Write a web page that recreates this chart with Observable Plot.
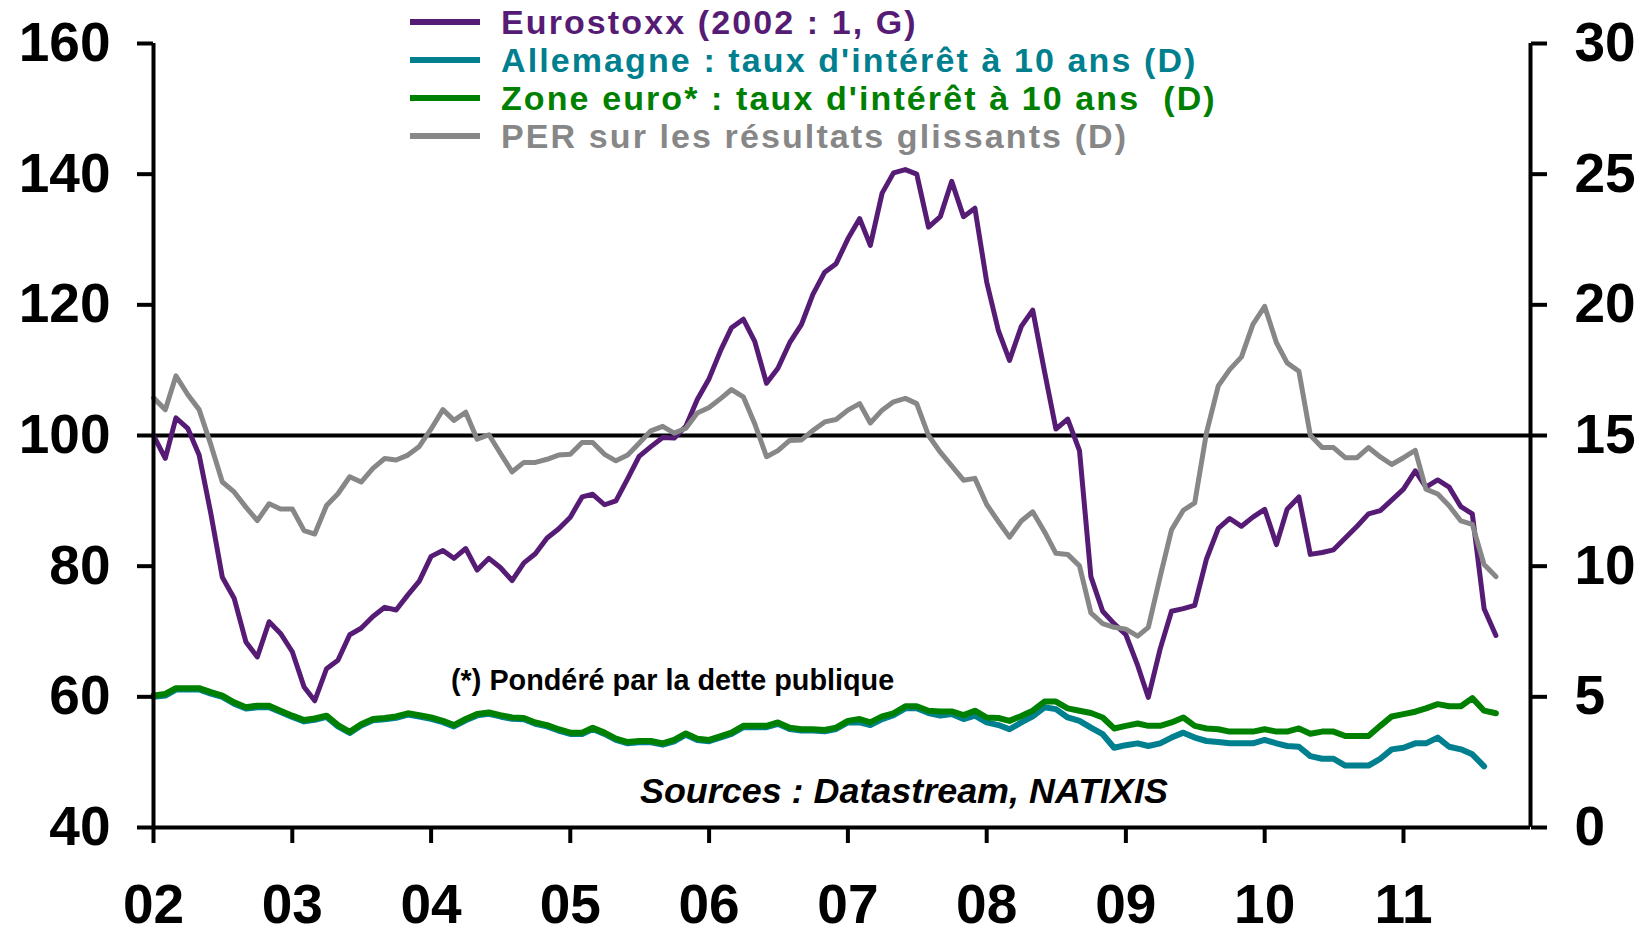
<!DOCTYPE html>
<html><head><meta charset="utf-8">
<script src="https://cdn.jsdelivr.net/npm/d3@7"></script>
<script src="https://cdn.jsdelivr.net/npm/@observablehq/plot@0.6"></script>
<style>
html,body{margin:0;padding:0;background:#fff;}
#wrap{position:relative;width:1652px;height:932px;font-family:Arial,"Liberation Sans",sans-serif;font-weight:bold;}
#legend{position:absolute;left:410px;top:3px;}
.row{display:flex;align-items:center;height:38px;white-space:pre;}
.sw{width:70px;height:6px;margin-right:21px;flex:none;}
.lab{display:block;height:38px;line-height:38px;font-size:34px;letter-spacing:2.1px;overflow:visible;}
.note{position:absolute;white-space:pre;color:#000;line-height:1;}
</style></head><body><div id="wrap"></div>
<script>
// Monthly series, Jan 2002 onward
const startYear = 2002;
const eurostoxx = [100,96.5,102.7,101.1,97.0,88,78.3,75.1,68.4,66.1,71.5,69.7,66.9,61.5,59.4,64.3,65.6,69.5,70.5,72.3,73.7,73.3,75.6,77.7,81.5,82.4,
81.2,82.7,79.4,81.2,79.8,77.8,80.5,81.9,84.3,85.7,87.5,90.6,91.0,89.4,90.0,93.4,96.8,98.3,99.7,99.6,101.4,105.5,
108.7,113.1,116.5,117.8,114.4,108.0,110.3,114.2,117.0,121.6,125.0,126.3,130.1,133.2,129.1,137.1,140.2,140.7,140.0,131.9,133.5,138.9,133.5,134.8,
123.5,116.0,111.5,116.7,119.2,109.8,101.0,102.5,97.7,78.4,73.1,71.2,69.5,64.8,59.9,67.3,73.1,73.5,74.0,81.1,85.8,87.3,86.1,87.5,88.7,
83.3,88.7,90.6,81.8,82.1,82.5,84.3,86.1,88.0,88.5,90.1,91.8,94.6,92.1,93.2,92.1,89.1,88.0,73.5,69.4];
const allemagne = [5.0,5.05,5.28,5.28,5.28,5.12,5.0,4.74,4.55,4.6,4.6,4.42,4.23,4.06,4.12,4.23,3.87,3.62,3.9,4.1,4.14,4.2,4.32,4.25,4.16,4.03,3.87,4.1,4.29,4.35,4.25,4.16,4.14,3.97,3.87,3.71,3.58,3.58,3.77,3.58,3.35,3.22,3.26,3.26,3.17,3.3,3.55,3.35,3.3,3.45,3.58,3.84,3.84,3.84,3.97,3.77,3.71,3.71,3.68,3.77,
4.02,4.02,3.92,4.15,4.30,4.56,4.56,4.38,4.28,4.34,4.15,4.28,4.02,3.92,3.76,4.02,4.25,4.60,4.53,4.21,4.08,3.82,3.57,3.05,3.15,3.22,3.12,3.22,3.44,3.63,3.44,3.31,3.27,3.22,3.22,3.22,3.35,3.22,3.12,3.09,2.73,2.63,2.63,2.37,2.37,2.37,2.63,2.99,3.05,3.22,3.22,3.44,3.09,2.99,2.80,2.34];
const zoneEuro = [5.05,5.11,5.33,5.33,5.33,5.18,5.05,4.79,4.60,4.66,4.66,4.47,4.28,4.11,4.17,4.28,3.92,3.66,3.95,4.15,4.19,4.25,4.37,4.30,4.21,4.08,3.92,4.15,4.34,4.40,4.30,4.21,4.19,4.02,3.92,3.76,3.63,3.63,3.82,3.63,3.40,3.27,3.31,3.31,3.22,3.35,3.60,3.40,3.35,3.50,3.63,3.89,3.89,3.89,4.02,3.82,3.76,3.76,3.73,3.82,
4.08,4.15,4.02,4.25,4.37,4.64,4.64,4.47,4.44,4.44,4.30,4.47,4.21,4.19,4.08,4.27,4.47,4.82,4.82,4.56,4.47,4.38,4.21,3.79,3.89,3.98,3.89,3.89,4.02,4.21,3.89,3.79,3.76,3.67,3.67,3.67,3.76,3.67,3.67,3.79,3.59,3.67,3.67,3.50,3.50,3.50,3.89,4.25,4.34,4.43,4.56,4.72,4.64,4.64,4.95,4.47,4.37];
const per = [16.44,15.99,17.28,16.57,15.99,14.64,13.22,12.84,12.26,11.74,12.39,12.19,12.19,11.36,11.23,12.32,12.77,13.42,13.22,13.74,14.12,14.06,14.25,14.58,15.25,15.99,
15.58,15.89,14.86,15.03,14.32,13.61,13.97,13.97,14.09,14.25,14.28,14.73,14.73,14.28,14.03,14.25,14.70,15.18,15.35,15.09,15.28,15.86,
16.07,16.42,16.76,16.48,15.45,14.19,14.42,14.81,14.83,15.19,15.52,15.61,15.97,16.22,15.48,15.97,16.29,16.42,16.22,15.0,14.36,13.84,13.29,13.36,
12.36,11.7,11.11,11.73,12.08,11.32,10.49,10.45,10.01,8.21,7.80,7.66,7.59,7.32,7.66,9.59,11.39,12.14,12.42,15.11,16.90,17.52,18.01,19.25,19.94,
18.55,17.78,17.46,15.01,14.54,14.54,14.15,14.15,14.54,14.18,13.89,14.15,14.43,12.95,12.76,12.31,11.73,11.60,10.06,9.60];

const leftTicks = [40,60,80,100,120,140,160];
const rightTicks = [0,5,10,15,20,25,30];
const yearTicks = [2002,2003,2004,2005,2006,2007,2008,2009,2010,2011];
const seriesNames = ["Eurostoxx (2002 : 1, G)","Allemagne : taux d'intérêt à 10 ans (D)","Zone euro* : taux d'intérêt à 10 ans  (D)","PER sur les résultats glissants (D)"];
const colors = ["#561C75","#00808F","#008000","#878787"];

const month = i => new Date(Date.UTC(startYear, i, 1));
const toRows = arr => arr.map((v, i) => ({date: month(i), v}));
// right axis (0..30) shares the frame with the left axis (40..160)
const r2l = v => 40 + v * 4;

const chart = Plot.plot({
  width: 1652, height: 932,
  marginLeft: 153, marginRight: 122, marginTop: 43, marginBottom: 105,
  x: {type: "utc", domain: [month(0), month(119)]},
  y: {domain: [40, 160]},
  style: {fontFamily: 'Arial, "Liberation Sans", sans-serif', fontWeight: "bold", fontSize: "55px", color: "#000", background: "#fff", overflow: "visible"},
  marks: [
    Plot.ruleY([100], {stroke: "#000", strokeWidth: 4}),
    Plot.lineY(toRows(eurostoxx), {x: "date", y: "v", stroke: colors[0], strokeWidth: 5, strokeLinejoin: "round"}),
    Plot.lineY(toRows(allemagne), {x: "date", y: d => r2l(d.v), stroke: colors[1], strokeWidth: 6, strokeLinejoin: "round"}),
    Plot.lineY(toRows(zoneEuro), {x: "date", y: d => r2l(d.v), stroke: colors[2], strokeWidth: 6, strokeLinejoin: "round"}),
    Plot.lineY(toRows(per), {x: "date", y: d => r2l(d.v), stroke: colors[3], strokeWidth: 5, strokeLinejoin: "round"}),
    Plot.ruleX([month(0)], {stroke: "#000", strokeWidth: 4}),
    Plot.ruleX([month(119)], {stroke: "#000", strokeWidth: 4}),
    Plot.ruleY([40], {stroke: "#000", strokeWidth: 4}),
    Plot.axisY({anchor: "left", ticks: leftTicks, tickSize: 16, tickPadding: 27, strokeWidth: 4, label: null}),
    Plot.axisY({anchor: "right", ticks: rightTicks.map(r2l), tickFormat: d => String((d - 40) / 4), tickSize: 16, tickPadding: 28, strokeWidth: 4, label: null}),
    Plot.axisX({ticks: yearTicks.map(y => new Date(Date.UTC(y, 0, 1))), tickFormat: d3.utcFormat("%y"), tickSize: 16, tickPadding: 40, strokeWidth: 4, label: null})
  ]
});

const wrap = document.getElementById("wrap");
wrap.appendChild(chart);

const legend = document.createElement("div");
legend.id = "legend";
seriesNames.forEach((name, i) => {
  const row = document.createElement("div");
  row.className = "row";
  row.style.color = colors[i];
  const sw = document.createElement("span");
  sw.className = "sw";
  sw.style.background = colors[i];
  const lab = document.createElement("div");
  lab.className = "lab";
  lab.textContent = name;
  row.appendChild(sw);
  row.appendChild(lab);
  legend.appendChild(row);
});
wrap.appendChild(legend);

const n1 = document.createElement("div");
n1.className = "note";
n1.style.cssText = "left:451px;top:666px;font-size:28.8px;";
n1.textContent = "(*) Pondéré par la dette publique";
wrap.appendChild(n1);

const n2 = document.createElement("div");
n2.className = "note";
n2.style.cssText = "left:640px;top:774px;font-size:35.9px;font-style:italic;";
n2.textContent = "Sources : Datastream, NATIXIS";
wrap.appendChild(n2);
</script></body></html>
